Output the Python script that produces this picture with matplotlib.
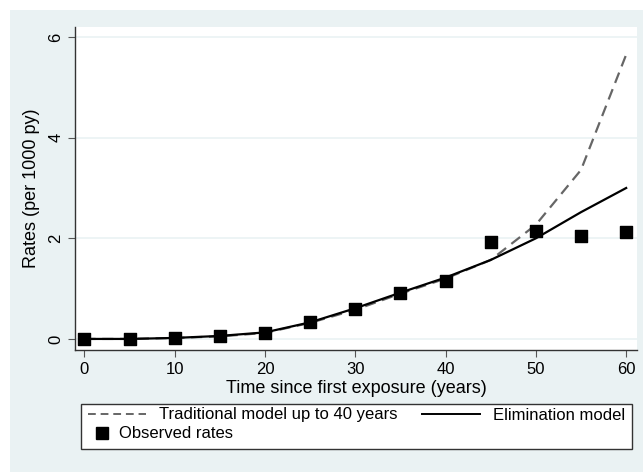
import matplotlib.pyplot as plt
from matplotlib.lines import Line2D
from matplotlib.patches import Rectangle

plt.rcParams['font.family'] = ['Liberation Sans', 'DejaVu Sans']

# time since first exposure (years)
years = [0, 5, 10, 15, 20, 25, 30, 35, 40, 45, 50, 55, 60]
# rates per 1000 py
observed = [0.0, 0.0, 0.02, 0.06, 0.12, 0.33, 0.60, 0.92, 1.15, 1.93, 2.15, 2.05, 2.13]
traditional = [0.0, 0.0, 0.02, 0.05, 0.12, 0.32, 0.58, 0.90, 1.20, 1.57, 2.27, 3.36, 5.65]
elimination = [0.0, 0.0, 0.02, 0.06, 0.13, 0.33, 0.61, 0.92, 1.22, 1.57, 2.00, 2.52, 3.00]

bg = '#eaf2f3'
grid_col = '#eaf2f3'

W, H = 643, 472
fig = plt.figure(figsize=(W / 100, H / 100), dpi=100)
fig.patch.set_facecolor('white')
# stata-ish outer panel
bax = fig.add_axes([10 / W, 0, 1 - 10 / W, 1 - 10 / H], zorder=-1)
bax.set_facecolor(bg)
bax.set_xticks([])
bax.set_yticks([])
for s in bax.spines.values():
    s.set_visible(False)

ax = fig.add_axes([75 / W, 1 - 350 / H, (637 - 75) / W, (350 - 27) / H])
ax.set_facecolor('white')

ax.plot(years, traditional, color='#666666', lw=1.6, dashes=(5, 3), zorder=3)
ax.plot(years, elimination, color='black', lw=1.6, zorder=3)
ax.scatter(years, observed, marker='s', s=75, color='black', zorder=4)

ax.set_xlim(-1.05, 61.2)
ax.set_ylim(-0.22, 6.2)
ax.set_xticks(range(0, 61, 10))
ax.set_yticks([0, 2, 4, 6])
ax.set_yticklabels(['0', '2', '4', '6'], rotation=90, va='center')
ax.tick_params(axis='both', direction='out', length=5, color='#555555', labelsize=12)
ax.grid(axis='y', color=grid_col, lw=1.2)
ax.set_axisbelow(True)
for s in ['top', 'right']:
    ax.spines[s].set_visible(False)
for s in ['left', 'bottom']:
    ax.spines[s].set_color('#333333')
    ax.spines[s].set_linewidth(1.0)

ax.set_xlabel('Time since first exposure (years)', fontsize=13, labelpad=2)
ax.set_ylabel('Rates (per 1000 py)', fontsize=13, labelpad=6)

# legend box
fig.patches.append(Rectangle((81 / W, 1 - 449 / H), (632 - 81) / W, 45 / H,
                             transform=fig.transFigure, facecolor='white',
                             edgecolor='#333333', lw=1.0, zorder=1))

h_trad = Line2D([], [], color='#666666', lw=1.4, dashes=(4, 2.5))
h_elim = Line2D([], [], color='black', lw=1.4)
h_obs = Line2D([], [], color='black', marker='s', ls='none', markersize=8)

leg1 = fig.legend([h_trad, h_elim], ['Traditional model up to 40 years', 'Elimination model'],
                  ncol=2, loc='center left', mode='expand',
                  bbox_to_anchor=(81 / W, 1 - 415 / H, (632 - 81) / W, 0),
                  fontsize=12, frameon=False, handlelength=3.5, borderaxespad=0,
                  columnspacing=1.0)
leg2 = fig.legend([h_obs], ['Observed rates'], loc='center left',
                  bbox_to_anchor=(89 / W, 1 - 434 / H), fontsize=12, frameon=False,
                  handlelength=0.8, handletextpad=0.6, borderaxespad=0)

fig.savefig('out.png', dpi=100)
